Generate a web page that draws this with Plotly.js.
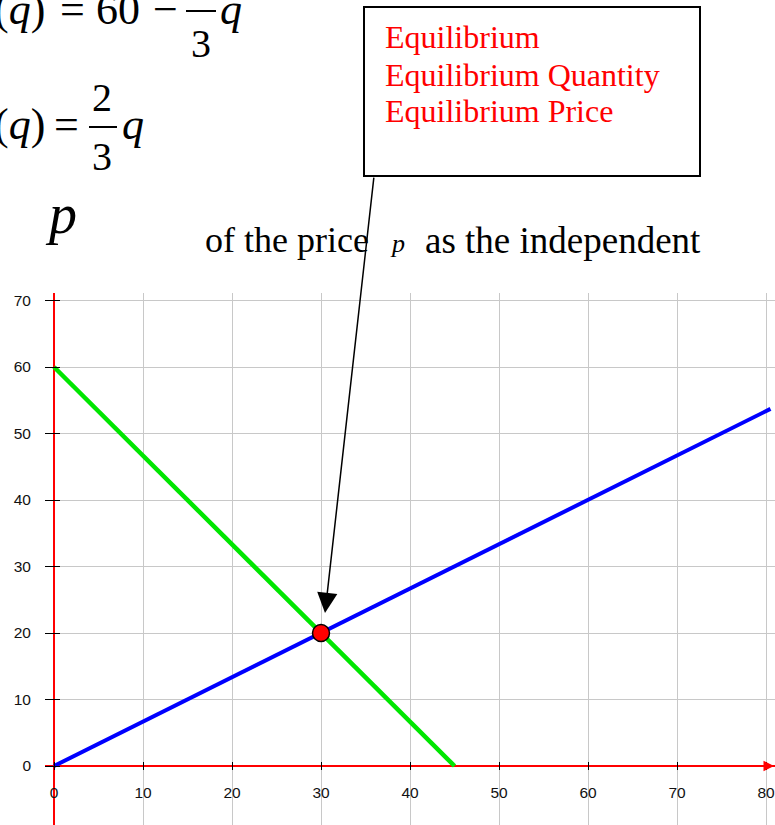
<!DOCTYPE html>
<html>
<head>
<meta charset="utf-8">
<script src="https://cdn.plot.ly/plotly-3.0.1.min.js"></script>
<style>html,body{margin:0;padding:0;background:#fff;}</style>
</head>
<body>
<div id="chart" style="width:775px;height:825px;"></div>
<script>
// ---- data ----
const demandQ = [0, 45];
const demandP = [60, 0];
const supplyQ = [0, 80.5];
const supplyP = [0, 53.7];
const eqQ = [30];
const eqP = [20];
const xTicks = [0, 10, 20, 30, 40, 50, 60, 70, 80];
const yTicks = [0, 10, 20, 30, 40, 50, 60, 70];
const calloutLines = ['Equilibrium', 'Equilibrium Quantity', 'Equilibrium Price'];

// ---- plot-area geometry (pixels) ----
const L = 45, T = 293, W = 730, H = 532;
const px = x => (x - L) / W;
const py = y => (T + H - y) / H;

const serif = 'Liberation Serif, Times New Roman, serif';

function txt(text, x, y, size, opts) {
  return Object.assign({
    text: text, xref: 'paper', yref: 'paper', x: px(x), y: py(y),
    xanchor: 'center', yanchor: 'middle', showarrow: false,
    font: {family: serif, size: size, color: '#000'}
  }, opts || {});
}

const red = {family: serif, size: 32, color: '#ff0000'};

const annotations = [
  // equation line 1
  txt('(<i>q</i>)', 19, 9, 44),
  txt('=', 72, 9, 44),
  txt('60', 118, 9, 44),
  txt('−', 165, 9, 44),
  txt('3', 201, 44, 40),
  txt('<i>q</i>', 231, 9, 44),
  // equation line 2
  txt('(<i>q</i>)', 19, 125, 44),
  txt('=', 66, 125, 44),
  txt('2', 102, 98, 40),
  txt('3', 102, 157, 40),
  txt('<i>q</i>', 133, 125, 44),
  // p and sentence
  txt('<i>p</i>', 61, 214, 56),
  txt('of the price', 203, 240, 36, {xanchor: 'left'}),
  txt('<i>p</i>', 397, 243, 26),
  txt('as the independent', 423, 240, 37, {xanchor: 'left'}),
  // callout text
  txt(calloutLines[0], 383, 37, 32, {xanchor: 'left', font: red}),
  txt(calloutLines[1], 383, 75, 32, {xanchor: 'left', font: red}),
  txt(calloutLines[2], 383, 111, 32, {xanchor: 'left', font: red}),
  // callout arrow to equilibrium
  {x: 30.45, y: 23.0, xref: 'x', yref: 'y', text: '', showarrow: true,
   ax: 49, ay: -437, arrowhead: 2, arrowsize: 2.7, arrowwidth: 1.5, arrowcolor: '#000', standoff: 0},
  // x-axis arrowhead
  {x: 80.9, y: 0, xref: 'x', yref: 'y', text: '', showarrow: true,
   ax: -14, ay: 0, arrowhead: 2, arrowsize: 1.4, arrowwidth: 1.5, arrowcolor: '#ff0000', standoff: 0}
];

const shapes = [
  // callout box
  {type: 'rect', xref: 'paper', yref: 'paper', x0: px(364), x1: px(700), y0: py(176), y1: py(7),
   line: {color: '#000', width: 2}, fillcolor: '#fff', layer: 'above'},
  // fraction bars
  {type: 'line', xref: 'paper', yref: 'paper', x0: px(186), x1: px(216), y0: py(11), y1: py(11),
   line: {color: '#000', width: 2}},
  {type: 'line', xref: 'paper', yref: 'paper', x0: px(89), x1: px(117), y0: py(127), y1: py(127),
   line: {color: '#000', width: 2}}
];

const traces = [
  {x: demandQ, y: demandP, type: 'scatter', mode: 'lines', line: {color: '#00e600', width: 4.5}, hoverinfo: 'skip'},
  {x: supplyQ, y: supplyP, type: 'scatter', mode: 'lines', line: {color: '#0000ff', width: 4}, hoverinfo: 'skip'},
  {x: eqQ, y: eqP, type: 'scatter', mode: 'markers',
   marker: {color: '#ff0000', size: 17, line: {color: '#000', width: 1.5}}, hoverinfo: 'skip'}
];

const tickFont = {family: 'Liberation Sans, Arial, sans-serif', size: 15.5, color: '#111'};

const layout = {
  width: 775, height: 825,
  margin: {l: L, r: 775 - L - W, t: T, b: 825 - T - H, pad: 0},
  paper_bgcolor: '#fff', plot_bgcolor: '#fff',
  showlegend: false,
  xaxis: {
    range: [-1.011, 81.01], tickvals: xTicks, ticktext: xTicks.map(String),
    anchor: 'free', position: (825 - 770) / H,
    showgrid: true, gridcolor: '#c8c8c8', gridwidth: 1,
    zeroline: true, zerolinecolor: '#ff0000', zerolinewidth: 2,
    showline: false, ticks: 'inside', ticklen: 8, tickcolor: '#000', tickwidth: 1,
    tickfont: tickFont, ticklabelstandoff: 11, ticklabeloverflow: 'allow', automargin: false
  },
  yaxis: {
    range: [-8.87, 71.13], tickvals: yTicks, ticktext: yTicks.map(String),
    showgrid: true, gridcolor: '#c8c8c8', gridwidth: 1,
    zeroline: true, zerolinecolor: '#ff0000', zerolinewidth: 2,
    showline: false, ticks: 'inside', ticklen: 15, tickcolor: '#000', tickwidth: 1,
    tickfont: tickFont, ticklabelstandoff: 13, ticklabeloverflow: 'allow', automargin: false
  },
  annotations: annotations,
  shapes: shapes
};

Plotly.newPlot('chart', traces, layout, {displayModeBar: false, staticPlot: true});
</script>
</body>
</html>
